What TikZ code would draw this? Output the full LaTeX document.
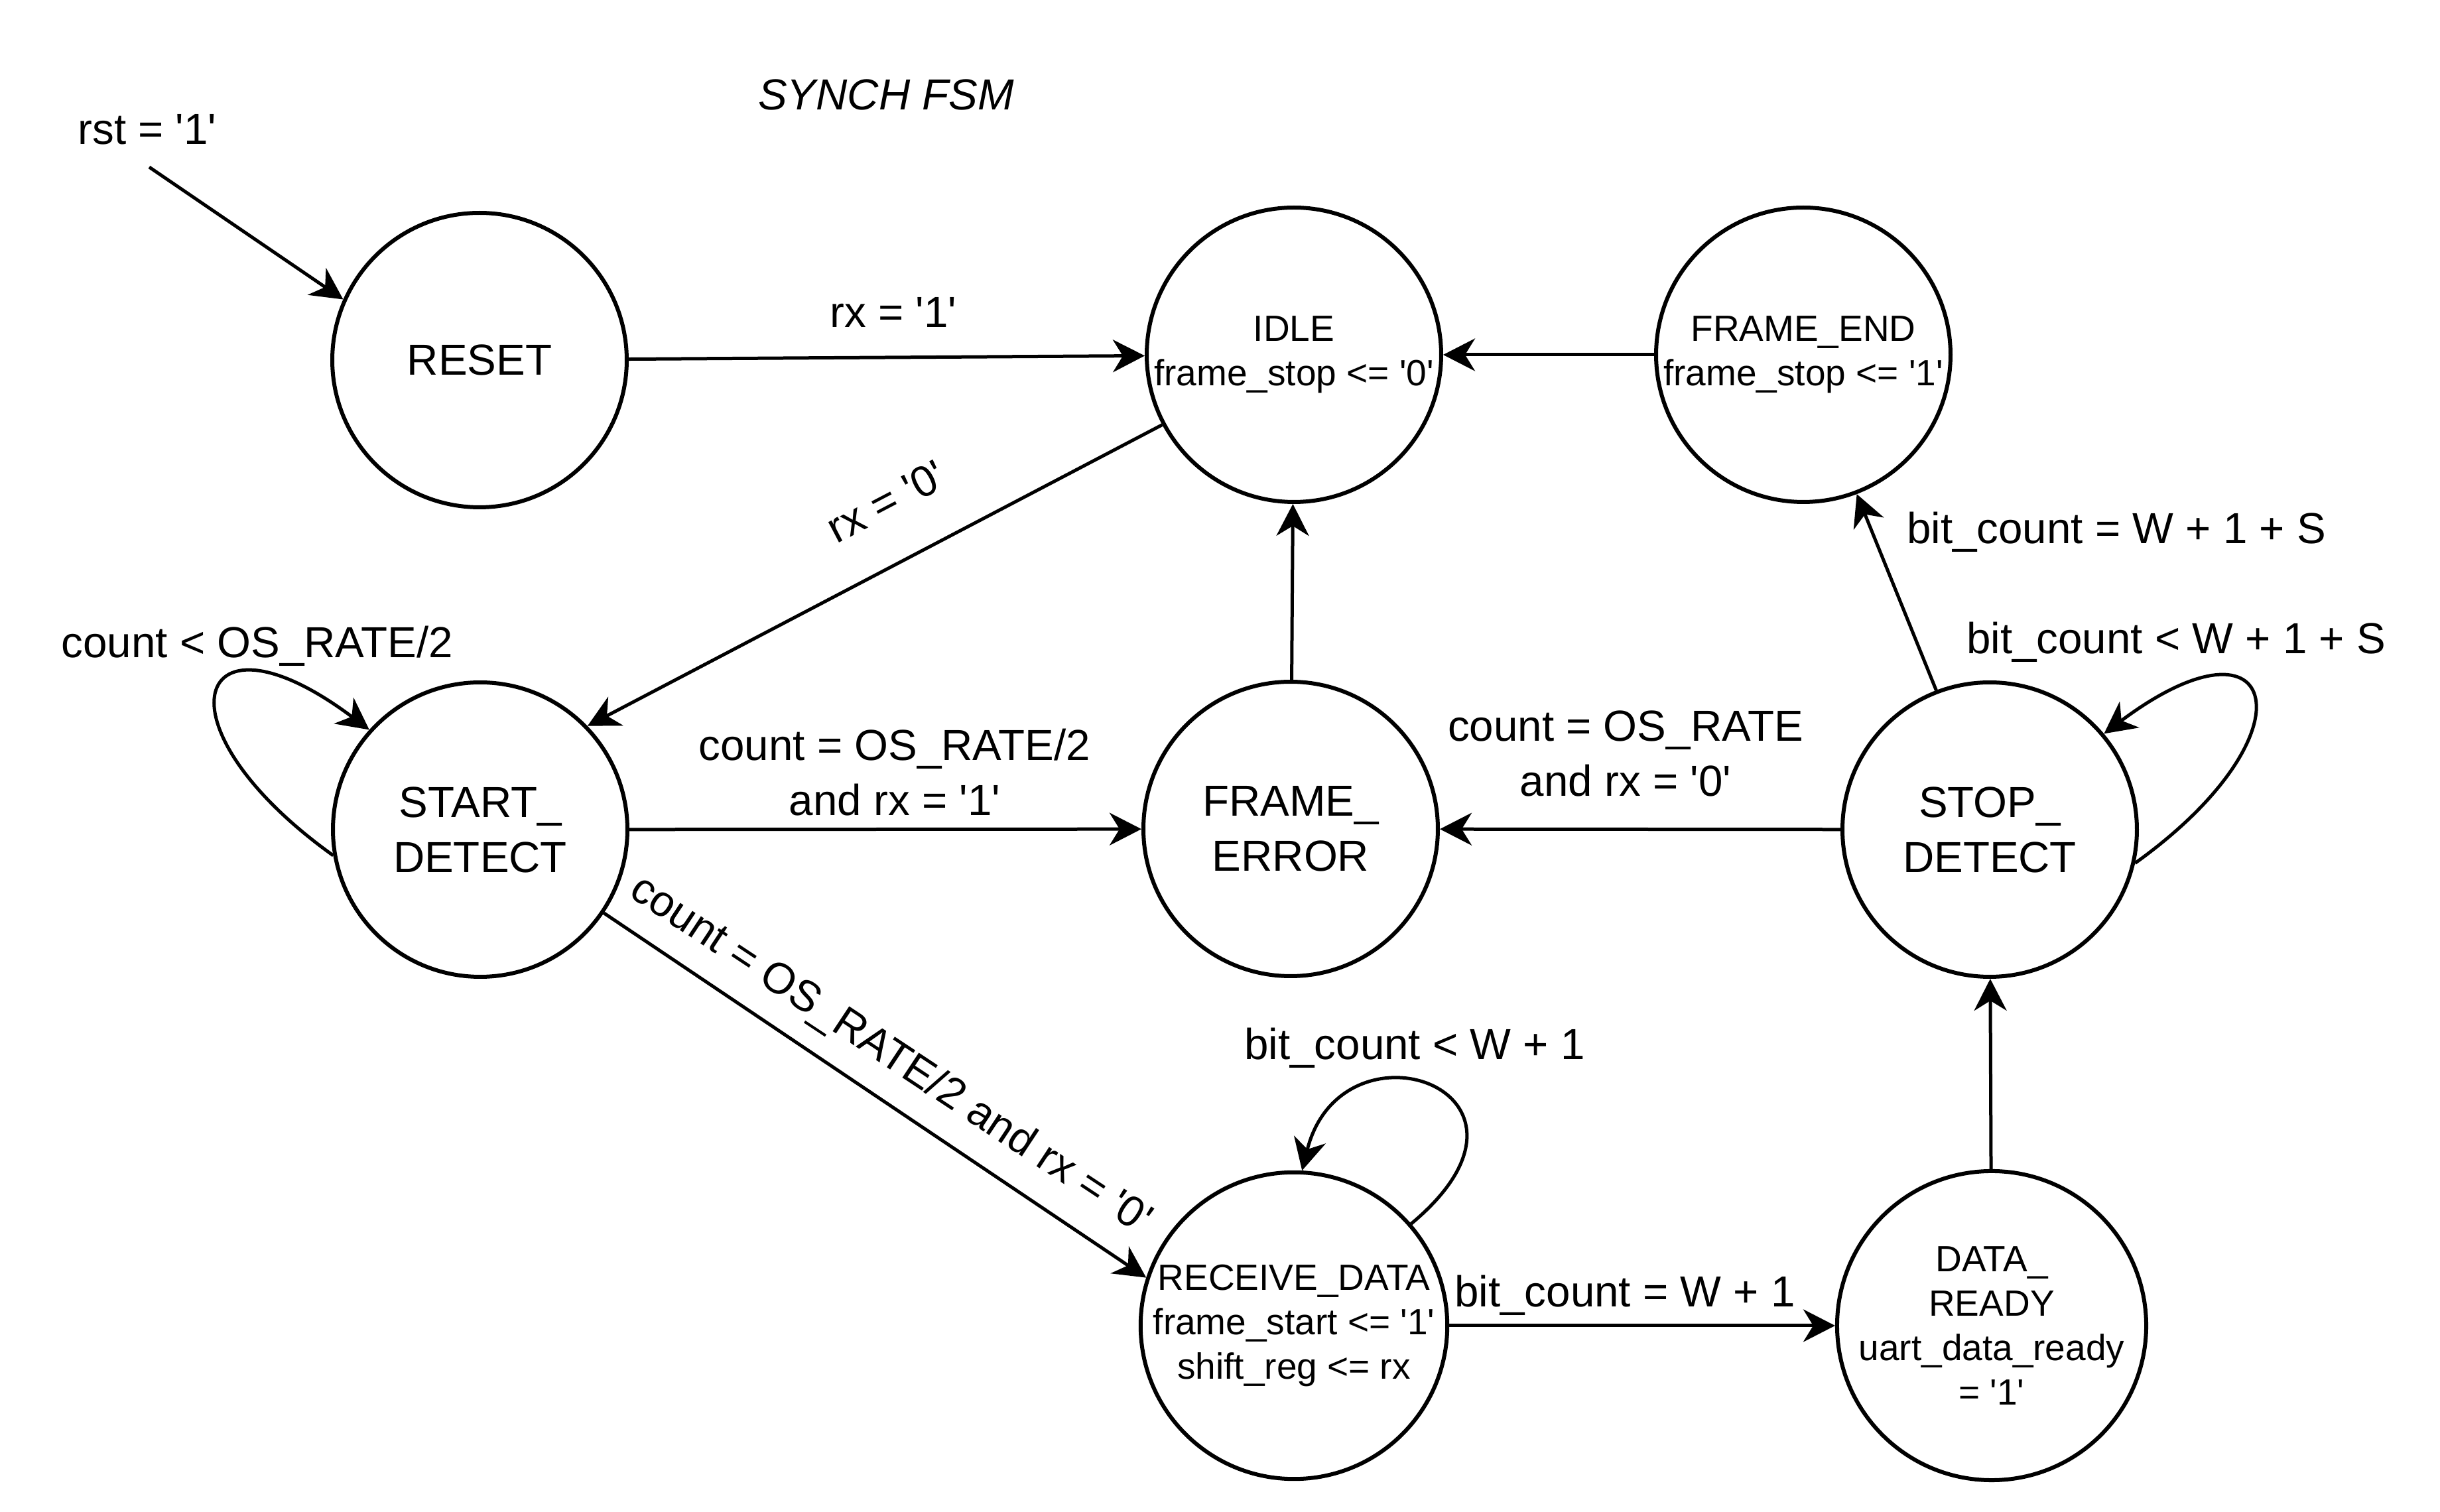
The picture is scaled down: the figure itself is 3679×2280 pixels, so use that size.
\documentclass[tikz,border=0pt]{standalone}
\usepackage{fontspec}
\setmainfont{Liberation Sans}[Ligatures=TeXOff]
\usetikzlibrary{arrows.meta}
\begin{document}
\begin{tikzpicture}[x=0.1pt,y=-0.1pt,
  state/.style={circle,draw,line width=0.6pt,minimum size=44.4pt,inner sep=0pt,align=center},
  big/.style={font=\fontsize{6.55pt}{8.3pt}\selectfont},
  small/.style={font=\fontsize{5.5pt}{6.7pt}\selectfont},
  arr/.style={line width=0.5pt,-{Stealth[length=4.8pt,width=4.9pt,inset=1.5pt]}},
  lbl/.style={big,align=center,inner sep=0pt}]
\useasboundingbox (0,0) rectangle (3679,2280);
\fill[white] (0,0) rectangle (3679,2280);

\node[state,big] (reset) at (723,543) {RESET};
\node[state,small] (idle) at (1951,535) {IDLE\\frame\_stop <= '0'};
\node[state,small] (fend) at (2719,535) {FRAME\_END\\frame\_stop <= '1'};
\node[state,big] (sd) at (724,1251) {START\_\\DETECT};
\node[state,big] (fe) at (1946,1250) {FRAME\_\\ERROR};
\node[state,big] (stop) at (3000,1251) {STOP\_\\DETECT};
\node[state,small] (rd) at (1951,1999) {RECEIVE\_DATA\\frame\_start <= '1'\\shift\_reg <= rx};
\node[state,small] (dr) at (3003,1999) {DATA\_\\READY\\uart\_data\_ready\\= '1'};

\node[lbl,font=\fontsize{6.55pt}{8.3pt}\selectfont\itshape] (title) at (1336,143) {SYNCH FSM};
\coordinate (rst0) at (225,252);
\node[lbl] (rstl) at (222,195) {rst = '1'};
\draw[arr] (rst0) -- (reset.156);

\draw[arr] (reset) -- (idle);
\draw[arr] (idle.208) -- (sd.44);
\draw[arr] (sd.190) .. controls +(-275,-197) and +(-264,-198) .. (sd.138);
\draw[arr] (sd) -- (fe);
\draw[arr] (sd.326) -- (rd.162);
\draw[arr] (fe) -- (idle);
\draw[arr] (fend) -- (idle);
\draw[arr] (stop) -- (fe);
\draw[arr] (stop.111) -- (fend.291);
\draw[arr] (stop.347) .. controls +(275,-197) and +(264,-198) .. (stop.40);
\draw[arr] (rd.41) .. controls +(240,-200) and +(60,-240) .. (rd.87);
\draw[arr] (rd) -- (dr);
\draw[arr] (dr) -- (stop);

\node[lbl] (l1) at (1347,471) {rx = '1'};
\node[lbl,rotate=27.6] (l2) at (1336,756) {rx = '0'};
\node[lbl] (l3) at (388,974) {count < OS\_RATE/2};
\node[lbl] (l4) at (1349,1165) {count = OS\_RATE/2\\and rx = '1'};
\node[lbl,rotate=-33.5] (l5) at (1342,1592) {count = OS\_RATE/2 and rx = '0'};
\node[lbl] (l6) at (2451,1136) {count = OS\_RATE\\and rx = '0'};
\node[lbl] (l7) at (3191,802) {bit\_count = W + 1 + S};
\node[lbl] (l8) at (3281,968) {bit\_count < W + 1 + S};
\node[lbl] (l9) at (2133,1580) {bit\_count < W + 1};
\node[lbl] (l10) at (2450,1953) {bit\_count = W + 1};
\end{tikzpicture}
\end{document}
